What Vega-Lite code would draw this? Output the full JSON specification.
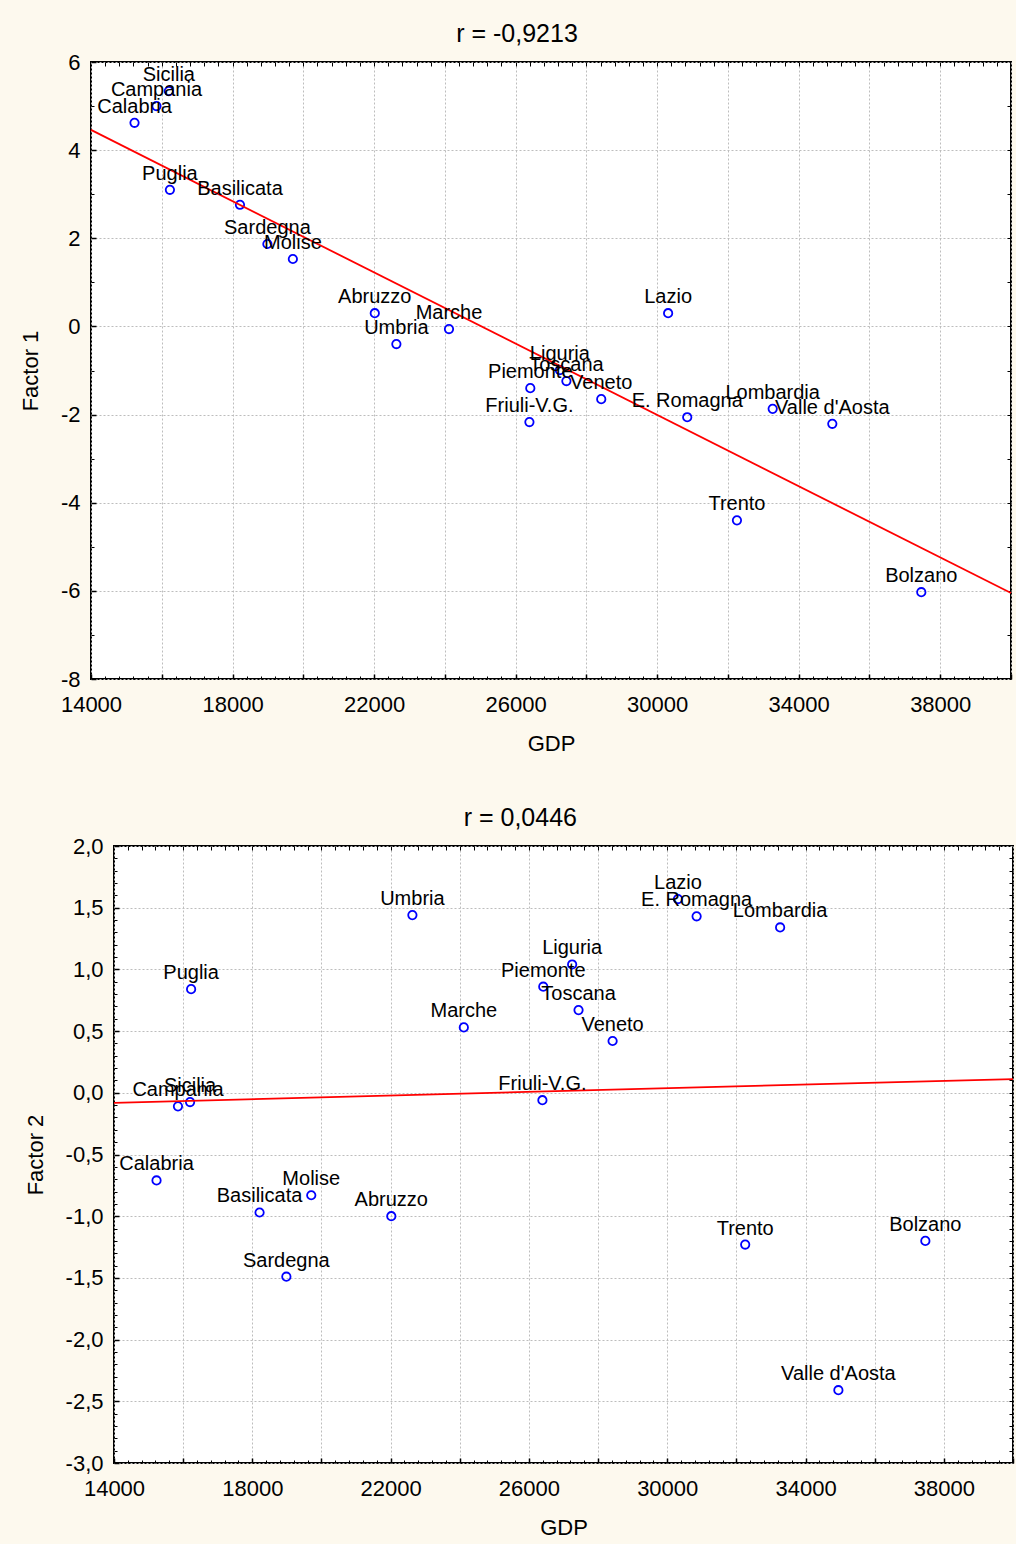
{
  "$schema": "https://vega.github.io/schema/vega-lite/v6.json",
  "padding": {"left": 18, "top": 21, "right": 4, "bottom": 12},
  "datasets": {
    "regions": [
      {"region": "Sicilia", "gdp": 16200, "f1": 5.34, "f2": -0.075},
      {"region": "Campania", "gdp": 15850, "f1": 5.0, "f2": -0.11},
      {"region": "Calabria", "gdp": 15230, "f1": 4.62, "f2": -0.71},
      {"region": "Puglia", "gdp": 16230, "f1": 3.1, "f2": 0.84},
      {"region": "Basilicata", "gdp": 18210, "f1": 2.76, "f2": -0.97},
      {"region": "Sardegna", "gdp": 18985, "f1": 1.87, "f2": -1.49},
      {"region": "Molise", "gdp": 19705, "f1": 1.53, "f2": -0.83},
      {"region": "Abruzzo", "gdp": 22020, "f1": 0.3, "f2": -1.0},
      {"region": "Umbria", "gdp": 22630, "f1": -0.4, "f2": 1.44},
      {"region": "Marche", "gdp": 24117, "f1": -0.06, "f2": 0.53},
      {"region": "Lazio", "gdp": 30310, "f1": 0.3, "f2": 1.57},
      {"region": "Liguria", "gdp": 27250, "f1": -0.99, "f2": 1.04},
      {"region": "Toscana", "gdp": 27435, "f1": -1.24, "f2": 0.67},
      {"region": "Piemonte", "gdp": 26415, "f1": -1.4, "f2": 0.86},
      {"region": "Veneto", "gdp": 28420, "f1": -1.65, "f2": 0.42},
      {"region": "Friuli-V.G.", "gdp": 26390, "f1": -2.17, "f2": -0.06},
      {"region": "E. Romagna", "gdp": 30850, "f1": -2.06, "f2": 1.43},
      {"region": "Lombardia", "gdp": 33265, "f1": -1.87, "f2": 1.34},
      {"region": "Valle d'Aosta", "gdp": 34950, "f1": -2.21, "f2": -2.41},
      {"region": "Trento", "gdp": 32255, "f1": -4.4, "f2": -1.23},
      {"region": "Bolzano", "gdp": 37465, "f1": -6.03, "f2": -1.2}
    ],
    "fit1": [
      {"gdp": 14000, "fit": 4.46},
      {"gdp": 40000, "fit": -6.05}
    ],
    "fit2": [
      {"gdp": 14000, "fit": -0.081},
      {"gdp": 40000, "fit": 0.111}
    ]
  },
  "vconcat": [
    {
      "title": "r = -0,9213",
      "width": 920,
      "height": 617,
      "resolve": {"axis": {"x": "independent", "y": "independent"}},
      "layer": [
        {
          "data": {"name": "regions"},
          "mark": {"type": "point", "shape": "circle", "filled": false, "color": "#0000ff", "size": 70, "strokeWidth": 1.8, "opacity": 1},
          "encoding": {
            "x": {"field": "gdp", "type": "quantitative",
              "scale": {"domain": [14000, 40000], "nice": false, "zero": false},
              "axis": {"orient": "bottom", "title": "GDP", "values": [14000, 16000, 18000, 20000, 22000, 24000, 26000, 28000, 30000, 32000, 34000, 36000, 38000, 40000],
                "labelExpr": "(datum.value - 14000) % 4000 == 0 && datum.value < 40000 ? format(datum.value, 'd') : ''"}},
            "y": {"field": "f1", "type": "quantitative",
              "scale": {"domain": [-8, 6], "nice": false, "zero": false},
              "axis": {"orient": "left", "title": "Factor 1", "values": [-8, -6, -4, -2, 0, 2, 4, 6],
                "labelExpr": "replace(format(datum.value, 'd'), '−', '-')"}}
          }
        },
        {
          "data": {"name": "fit1"},
          "mark": {"type": "line", "color": "#ff0000", "strokeWidth": 1.8},
          "encoding": {
            "x": {"field": "gdp", "type": "quantitative",
              "axis": {"orient": "bottom", "title": null, "labels": false, "grid": false, "tickSize": -3, "tickWidth": 1,
                "values": [14400, 14800, 15200, 15600, 16400, 16800, 17200, 17600, 18400, 18800, 19200, 19600, 20400, 20800, 21200, 21600, 22400, 22800, 23200, 23600, 24400, 24800, 25200, 25600, 26400, 26800, 27200, 27600, 28400, 28800, 29200, 29600, 30400, 30800, 31200, 31600, 32400, 32800, 33200, 33600, 34400, 34800, 35200, 35600, 36400, 36800, 37200, 37600, 38400, 38800, 39200, 39600]}},
            "y": {"field": "fit", "type": "quantitative",
              "axis": {"orient": "left", "title": null, "labels": false, "grid": false, "tickSize": -3, "tickWidth": 1,
                "values": [-7, -5, -3, -1, 1, 3, 5]}}
          }
        },
        {
          "data": {"name": "regions"},
          "mark": {"type": "text", "align": "center", "baseline": "alphabetic", "dy": -10, "fontSize": 20, "font": "Liberation Sans", "color": "black"},
          "encoding": {
            "x": {"field": "gdp", "type": "quantitative",
              "axis": {"orient": "top", "title": null, "labels": false, "grid": false, "tickSize": -4, "tickWidth": 1,
                "values": [14400, 14800, 15200, 15600, 16000, 16400, 16800, 17200, 17600, 18000, 18400, 18800, 19200, 19600, 20000, 20400, 20800, 21200, 21600, 22000, 22400, 22800, 23200, 23600, 24000, 24400, 24800, 25200, 25600, 26000, 26400, 26800, 27200, 27600, 28000, 28400, 28800, 29200, 29600, 30000, 30400, 30800, 31200, 31600, 32000, 32400, 32800, 33200, 33600, 34000, 34400, 34800, 35200, 35600, 36000, 36400, 36800, 37200, 37600, 38000, 38400, 38800, 39200, 39600]}},
            "y": {"field": "f1", "type": "quantitative",
              "axis": {"orient": "right", "title": null, "labels": false, "grid": false, "tickSize": -4, "tickWidth": 1,
                "values": [-7, -6, -5, -4, -3, -2, -1, 0, 1, 2, 3, 4, 5]}},
            "text": {"field": "region", "type": "nominal"}
          }
        }
      ]
    },
    {
      "spacing": -69,
      "hconcat": [
        {
          "width": 1,
          "height": 1,
          "view": {"stroke": null, "fill": null},
          "data": {"values": []},
          "mark": "point"
        },
        {
          "title": "r = 0,0446",
          "width": 899,
          "height": 617,
          "resolve": {"axis": {"x": "independent", "y": "independent"}},
          "layer": [
            {
              "data": {"name": "regions"},
              "mark": {"type": "point", "shape": "circle", "filled": false, "color": "#0000ff", "size": 70, "strokeWidth": 1.8, "opacity": 1},
              "encoding": {
                "x": {"field": "gdp", "type": "quantitative",
                  "scale": {"domain": [14000, 40000], "nice": false, "zero": false},
                  "axis": {"orient": "bottom", "title": "GDP", "values": [14000, 16000, 18000, 20000, 22000, 24000, 26000, 28000, 30000, 32000, 34000, 36000, 38000, 40000],
                    "labelExpr": "(datum.value - 14000) % 4000 == 0 && datum.value < 40000 ? format(datum.value, 'd') : ''"}},
                "y": {"field": "f2", "type": "quantitative",
                  "scale": {"domain": [-3, 2], "nice": false, "zero": false},
                  "axis": {"orient": "left", "title": "Factor 2", "values": [-3, -2.5, -2, -1.5, -1, -0.5, 0, 0.5, 1, 1.5, 2],
                    "labelExpr": "replace(replace(format(datum.value, '.1f'), '.', ','), '−', '-')"}}
              }
            },
            {
              "data": {"name": "fit2"},
              "mark": {"type": "line", "color": "#ff0000", "strokeWidth": 1.8},
              "encoding": {
                "x": {"field": "gdp", "type": "quantitative",
                  "axis": {"orient": "bottom", "title": null, "labels": false, "grid": false, "tickSize": -3, "tickWidth": 1,
                    "values": [14400, 14800, 15200, 15600, 16400, 16800, 17200, 17600, 18400, 18800, 19200, 19600, 20400, 20800, 21200, 21600, 22400, 22800, 23200, 23600, 24400, 24800, 25200, 25600, 26400, 26800, 27200, 27600, 28400, 28800, 29200, 29600, 30400, 30800, 31200, 31600, 32400, 32800, 33200, 33600, 34400, 34800, 35200, 35600, 36400, 36800, 37200, 37600, 38400, 38800, 39200, 39600]}},
                "y": {"field": "fit", "type": "quantitative",
                  "axis": {"orient": "left", "title": null, "labels": false, "grid": false, "tickSize": -3, "tickWidth": 1,
                    "values": [-2.9, -2.8, -2.7, -2.6, -2.4, -2.3, -2.2, -2.1, -1.9, -1.8, -1.7, -1.6, -1.4, -1.3, -1.2, -1.1, -0.9, -0.8, -0.7, -0.6, -0.4, -0.3, -0.2, -0.1, 0.1, 0.2, 0.3, 0.4, 0.6, 0.7, 0.8, 0.9, 1.1, 1.2, 1.3, 1.4, 1.6, 1.7, 1.8, 1.9]}}
              }
            },
            {
              "data": {"name": "regions"},
              "mark": {"type": "text", "align": "center", "baseline": "alphabetic", "dy": -10, "fontSize": 20, "font": "Liberation Sans", "color": "black"},
              "encoding": {
                "x": {"field": "gdp", "type": "quantitative",
                  "axis": {"orient": "top", "title": null, "labels": false, "grid": false, "tickSize": -4, "tickWidth": 1,
                    "values": [14400, 14800, 15200, 15600, 16000, 16400, 16800, 17200, 17600, 18000, 18400, 18800, 19200, 19600, 20000, 20400, 20800, 21200, 21600, 22000, 22400, 22800, 23200, 23600, 24000, 24400, 24800, 25200, 25600, 26000, 26400, 26800, 27200, 27600, 28000, 28400, 28800, 29200, 29600, 30000, 30400, 30800, 31200, 31600, 32000, 32400, 32800, 33200, 33600, 34000, 34400, 34800, 35200, 35600, 36000, 36400, 36800, 37200, 37600, 38000, 38400, 38800, 39200, 39600]}},
                "y": {"field": "f2", "type": "quantitative",
                  "axis": {"orient": "right", "title": null, "labels": false, "grid": false, "tickSize": -4, "tickWidth": 1,
                    "values": [-2.9, -2.8, -2.7, -2.6, -2.5, -2.4, -2.3, -2.2, -2.1, -2, -1.9, -1.8, -1.7, -1.6, -1.5, -1.4, -1.3, -1.2, -1.1, -1, -0.9, -0.8, -0.7, -0.6, -0.5, -0.4, -0.3, -0.2, -0.1, 0, 0.1, 0.2, 0.3, 0.4, 0.5, 0.6, 0.7, 0.8, 0.9, 1, 1.1, 1.2, 1.3, 1.4, 1.5, 1.6, 1.7, 1.8, 1.9]}},
                "text": {"field": "region", "type": "nominal"}
              }
            }
          ]
        }
      ]
    }
  ],
  "spacing": 50,
  "config": {
    "background": "#fdf9ee",
    "font": "Liberation Sans",
    "view": {"fill": "white", "stroke": "black", "strokeWidth": 2},
    "axis": {
      "labelFont": "Liberation Sans", "labelFontSize": 22, "labelColor": "black",
      "labelFlush": false, "labelOverlap": false,
      "titleFont": "Liberation Sans", "titleFontSize": 22, "titleFontWeight": "normal", "titleColor": "black",
      "domain": false, "tickColor": "black", "tickSize": -5, "tickWidth": 1.5,
      "gridColor": "#bdbdbd", "gridDash": [2, 2], "gridWidth": 1
    },
    "axisX": {"labelPadding": 20, "titlePadding": 18},
    "axisY": {"labelPadding": 16, "titlePadding": 18},
    "title": {"font": "Liberation Sans", "fontSize": 25, "fontWeight": "normal", "color": "black", "anchor": "middle", "frame": "bounds", "offset": 4}
  }
}
